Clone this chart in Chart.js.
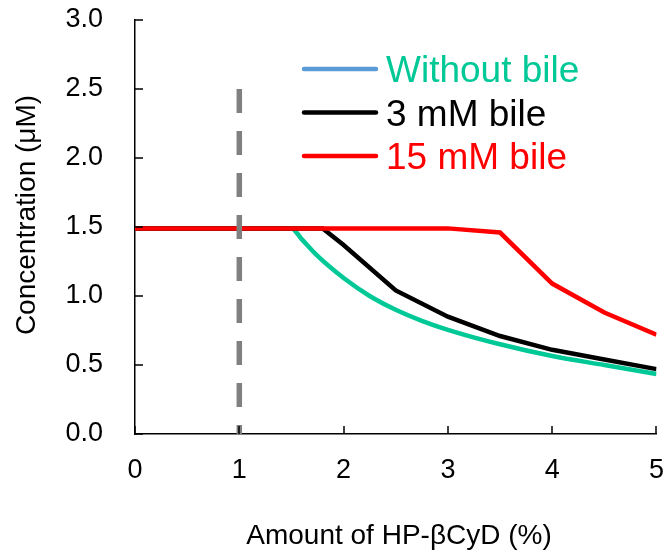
<!DOCTYPE html>
<html>
<head>
<meta charset="utf-8">
<script src="https://cdn.jsdelivr.net/npm/chart.js@4.4.1/dist/chart.umd.min.js"></script>
<style>
    html, body { margin: 0; padding: 0; background: #fff; }
    #wrap { width: 664px; height: 552px; }
</style>
</head>
<body>
<div id="wrap"><canvas id="bileChart" width="664" height="552"></canvas></div>
<script>
// HP-βCyD amount (%) and concentration (μM) for each bile condition
const xWithoutBile = [0, 0.5, 1, 1.5, 1.6, 1.75, 2, 2.25, 2.5, 2.75, 3, 3.5, 4, 4.5, 5];
const withoutBile = [1.49, 1.49, 1.49, 1.49, 1.41, 1.29, 1.13, 1.00, 0.90, 0.82, 0.755, 0.65, 0.565, 0.50, 0.435];

const xBile3 = [0, 0.5, 1, 1.5, 1.8, 2, 2.5, 3, 3.5, 4, 4.5, 5];
const bile3 = [1.49, 1.49, 1.49, 1.49, 1.49, 1.37, 1.04, 0.85, 0.71, 0.61, 0.54, 0.47];

const xBile15 = [0, 0.5, 1, 1.5, 2, 2.5, 3, 3.5, 4, 4.5, 5];
const bile15 = [1.49, 1.49, 1.49, 1.49, 1.49, 1.49, 1.49, 1.46, 1.09, 0.88, 0.72];

// vertical reference marker at 1 %
const xMarker = [1, 1];
const marker = [2.5, 0];

const xTicks = [0, 1, 2, 3, 4, 5];
const yTicks = [0, 0.5, 1, 1.5, 2, 2.5, 3];

const legendLabels = ['Without bile', '3 mM bile', '15 mM bile'];

const FONT = '"Liberation Sans", Arial, sans-serif';
const GREEN = '#00C896';
const toPoints = (xs, ys) => xs.map((x, i) => ({ x: x, y: ys[i] }));

// inward tick marks on both axes
const innerTicks = {
    id: 'innerTicks',
    afterDraw(chart) {
        const { ctx, chartArea, scales } = chart;
        ctx.save();
        ctx.strokeStyle = '#000';
        ctx.lineWidth = 1.5;
        ctx.beginPath();
        xTicks.forEach(v => {
            const px = Math.round(scales.x.getPixelForValue(v));
            ctx.moveTo(px, chartArea.bottom);
            ctx.lineTo(px, chartArea.bottom - 8);
        });
        yTicks.forEach(v => {
            const py = Math.round(scales.y.getPixelForValue(v));
            ctx.moveTo(chartArea.left, py);
            ctx.lineTo(chartArea.left + 8, py);
        });
        ctx.stroke();
        ctx.restore();
    }
};

// axis titles
const axisTitles = {
    id: 'axisTitles',
    afterDraw(chart) {
        const ctx = chart.ctx;
        ctx.save();
        ctx.fillStyle = '#000';
        ctx.font = '28px ' + FONT;
        ctx.textAlign = 'center';
        ctx.textBaseline = 'middle';
        ctx.fillText('Amount of HP-βCyD (%)', 399, 536);
        ctx.translate(27, 215);
        ctx.rotate(-Math.PI / 2);
        ctx.fillText('Concentration (μM)', 0, 0);
        ctx.restore();
    }
};

// legend inside the plot: line swatch + coloured label
const lineLegend = {
    id: 'lineLegend',
    afterDraw(chart) {
        const ctx = chart.ctx;
        const swatches = ['#5B9BD5', '#000000', '#FF0000'];
        const textColors = [GREEN, '#000000', '#FF0000'];
        ctx.save();
        ctx.font = '37px ' + FONT;
        ctx.textBaseline = 'middle';
        ctx.lineWidth = 4.5;
        ctx.lineCap = 'round';
        legendLabels.forEach((label, i) => {
            const y = 69 + i * 43.5;
            ctx.strokeStyle = swatches[i];
            ctx.beginPath();
            ctx.moveTo(304, y);
            ctx.lineTo(376, y);
            ctx.stroke();
            ctx.fillStyle = textColors[i];
            ctx.fillText(label, 386, y + 3);
        });
        ctx.restore();
    }
};

const ctx = document.getElementById('bileChart').getContext('2d');
new Chart(ctx, {
    type: 'line',
    data: {
        datasets: [
            {
                label: 'marker',
                data: toPoints(xMarker, marker),
                borderColor: '#808080',
                borderWidth: 5.5,
                borderDash: [24, 18],
                pointRadius: 0,
                order: 0
            },
            {
                label: legendLabels[2],
                data: toPoints(xBile15, bile15),
                borderColor: '#FF0000',
                borderWidth: 4.5,
                pointRadius: 0,
                tension: 0,
                order: 1
            },
            {
                label: legendLabels[1],
                data: toPoints(xBile3, bile3),
                borderColor: '#000000',
                borderWidth: 4.5,
                pointRadius: 0,
                tension: 0,
                order: 2
            },
            {
                label: legendLabels[0],
                data: toPoints(xWithoutBile, withoutBile),
                borderColor: GREEN,
                borderWidth: 4.5,
                pointRadius: 0,
                cubicInterpolationMode: 'monotone',
                order: 3
            }
        ]
    },
    options: {
        responsive: false,
        animation: false,
        layout: {
            padding: { top: 20, right: 7, left: 0, bottom: 0 }
        },
        plugins: {
            legend: { display: false },
            tooltip: { enabled: false }
        },
        scales: {
            x: {
                type: 'linear',
                min: 0,
                max: 5,
                afterFit(scale) { scale.height = 118; },
                afterBuildTicks(scale) { scale.ticks = xTicks.map(v => ({ value: v })); },
                // invisible tick length spaces the labels off the axis
                grid: { drawOnChartArea: false, drawTicks: true, tickLength: 20, tickColor: 'rgba(0,0,0,0)' },
                border: { display: true, color: '#000', width: 1.5 },
                ticks: {
                    padding: 0,
                    color: '#000',
                    font: { family: FONT, size: 27 },
                    maxRotation: 0,
                    callback: v => String(v)
                }
            },
            y: {
                min: 0,
                max: 3,
                afterFit(scale) { scale.width = 135; },
                afterBuildTicks(scale) { scale.ticks = yTicks.map(v => ({ value: v })); },
                grid: { drawOnChartArea: false, drawTicks: true, tickLength: 32, tickColor: 'rgba(0,0,0,0)' },
                border: { display: true, color: '#000', width: 1.5 },
                ticks: {
                    padding: 0,
                    color: '#000',
                    font: { family: FONT, size: 27 },
                    callback: v => Number(v).toFixed(1)
                }
            }
        }
    },
    plugins: [innerTicks, axisTitles, lineLegend]
});
</script>
</body>
</html>
